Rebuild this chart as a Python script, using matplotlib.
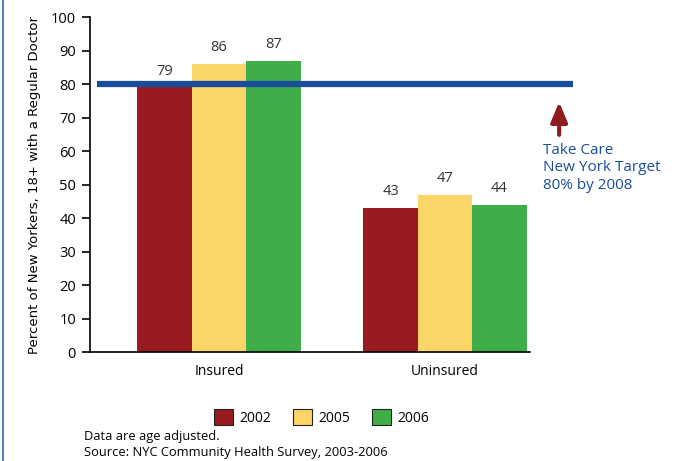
import matplotlib.pyplot as plt
import numpy as np
from matplotlib.patches import Patch

groups = ["Insured", "Uninsured"]
years = ["2002", "2005", "2006"]
pct_2002 = [79, 43]
pct_2005 = [86, 47]
pct_2006 = [87, 44]
target = 80
colors = ["#991b1f", "#fbd568", "#3fae49"]
blue = "#1a4c9c"

plt.rcParams['font.family'] = ['Open Sans', 'DejaVu Sans']

fig = plt.figure(figsize=(6.78, 4.61), dpi=100)
ax = fig.add_axes([0.1327, 0.2364, 0.6490, 0.7267])

x = np.arange(len(groups))
w = 0.241
for i, vals in enumerate([pct_2002, pct_2005, pct_2006]):
    pos = x + (i - 1) * w
    ax.bar(pos, vals, width=w, color=colors[i], zorder=2)
    for p, v in zip(pos, vals):
        ax.text(p, v + 2.6, str(v), ha='center', va='bottom', fontsize=10.5, color='#333333')

ax.set_xlim(-0.571, 1.376)
ax.set_ylim(0, 100)
ax.set_yticks(range(0, 101, 10))
ax.tick_params(axis='y', length=6, width=1.2, labelsize=10.5, pad=4)
ax.set_xticks([])
for s in ['top', 'right']:
    ax.spines[s].set_visible(False)
ax.spines['left'].set_linewidth(1.2)
ax.spines['bottom'].set_linewidth(1.2)

for gx, g in zip(x, groups):
    ax.text(gx, -3.5, g, ha='center', va='top', fontsize=10)

# target line runs past the axis on the right
ax.plot([-0.54, 1.566], [target, target], color=blue, lw=4.5, solid_capstyle='butt',
        clip_on=False, zorder=3)
ax.annotate("", xy=(1.505, 75.5), xytext=(1.505, 64),
            arrowprops=dict(arrowstyle='-|>,head_width=0.5,head_length=1.2', color='#8e1b1f', lw=3),
            annotation_clip=False)
ax.text(1.435, 62.5, "Take Care\nNew York Target\n80% by 2008", ha='left', va='top',
        fontsize=11, color=blue, linespacing=1.25, clip_on=False)

ax.set_ylabel("Percent of New Yorkers, 18+ with a Regular Doctor", fontsize=9.5,
              family='DejaVu Sans', labelpad=7)

handles = [Patch(facecolor=c, edgecolor='#222222', lw=0.8) for c in colors]
fig.legend(handles, years, loc='center', bbox_to_anchor=(0.474, 0.095), ncol=3, frameon=False,
           fontsize=10, handlelength=1.4, handleheight=1.4, handletextpad=0.4, columnspacing=1.6)

fig.text(0.124, 0.054, "Data are age adjusted.", fontsize=9.3, va='center')
fig.text(0.124, 0.019, "Source: NYC Community Health Survey, 2003-2006", fontsize=9.3, va='center')

# frame rule on the left edge
fig.add_artist(plt.Line2D([0.005, 0.005], [0, 1], color='#4a86c5', lw=1.5))

fig.savefig("out.png", dpi=100)
